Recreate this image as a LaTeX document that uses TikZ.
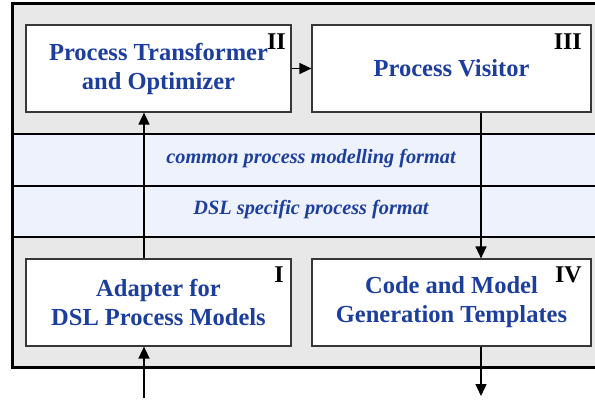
\documentclass[tikz,border=0pt]{standalone}
\usepackage{fontspec}
\setmainfont{Liberation Serif}
\usetikzlibrary{arrows.meta}
\definecolor{txtblue}{RGB}{28,62,158}
\definecolor{regiongray}{RGB}{232,232,232}
\definecolor{bandblue}{RGB}{238,242,253}
\definecolor{boxline}{RGB}{55,55,55}
\tikzset{
  modbox/.style={draw=boxline, line width=1.2pt, fill=white, minimum width=265pt, minimum height=87pt, inner sep=0pt, align=center, text=txtblue, font=\bfseries\fontsize{24.5}{29}\selectfont},
  numlabel/.style={anchor=base east, inner sep=0pt, font=\bfseries\fontsize{24}{28}\selectfont, text=black},
  bandtext/.style={inner sep=0pt, text=txtblue, font=\bfseries\itshape\fontsize{20.3}{24}\selectfont},
  conn/.style={line width=1.4pt, -{Triangle[length=12pt,width=11pt]}},
}
\begin{document}
\begin{tikzpicture}[x=1pt,y=-1pt]
\useasboundingbox (0,0) rectangle (595,402);
\clip (0,0) rectangle (595,402);
\fill[white] (0,0) rectangle (595,402);
% regions
\fill[regiongray] (12,3) rectangle (605,134);
\fill[bandblue] (12,134) rectangle (605,237);
\fill[regiongray] (12,237) rectangle (605,367);
\draw[line width=2pt] (12,134) -- (605,134);
\draw[line width=1.6pt] (12,186) -- (605,186);
\draw[line width=2pt] (12,237) -- (605,237);
\draw[line width=3pt] (12,3) rectangle (605,367);
% band texts
\node[bandtext] (common) at (311,159) {common process modelling format};
\node[bandtext] (dsl) at (311,210) {DSL specific process format};
% boxes
\node[modbox] (II) at (158.5,68.5) {Process Transformer\\and Optimizer};
\node[modbox, minimum width=279pt] (III) at (451.5,68.5) {Process Visitor};
\node[modbox] (I) at (158.5,302.5) {Adapter for\\DSL Process Models};
\node[modbox, minimum width=279pt] (IV) at (451.5,302.5) {Code and Model\\Generation Templates};
% labels
\node[numlabel] (lII) at (286,49) {II};
\node[numlabel] (lIII) at (582,49) {III};
\node[numlabel] (lI) at (284,282) {I};
\node[numlabel] (lIV) at (582,282) {IV};
% connectors
\coordinate (inA) at (144,398);
\coordinate (outA) at (481,396);
\draw[conn] (inA) -- (inA |- I.south);
\draw[conn] (I.north -| inA) -- (II.south -| inA);
\draw[conn] (II.east) -- (III.west);
\draw[conn] (III.south -| outA) -- (IV.north -| outA);
\draw[conn] (IV.south -| outA) -- (outA);
\end{tikzpicture}
\end{document}
